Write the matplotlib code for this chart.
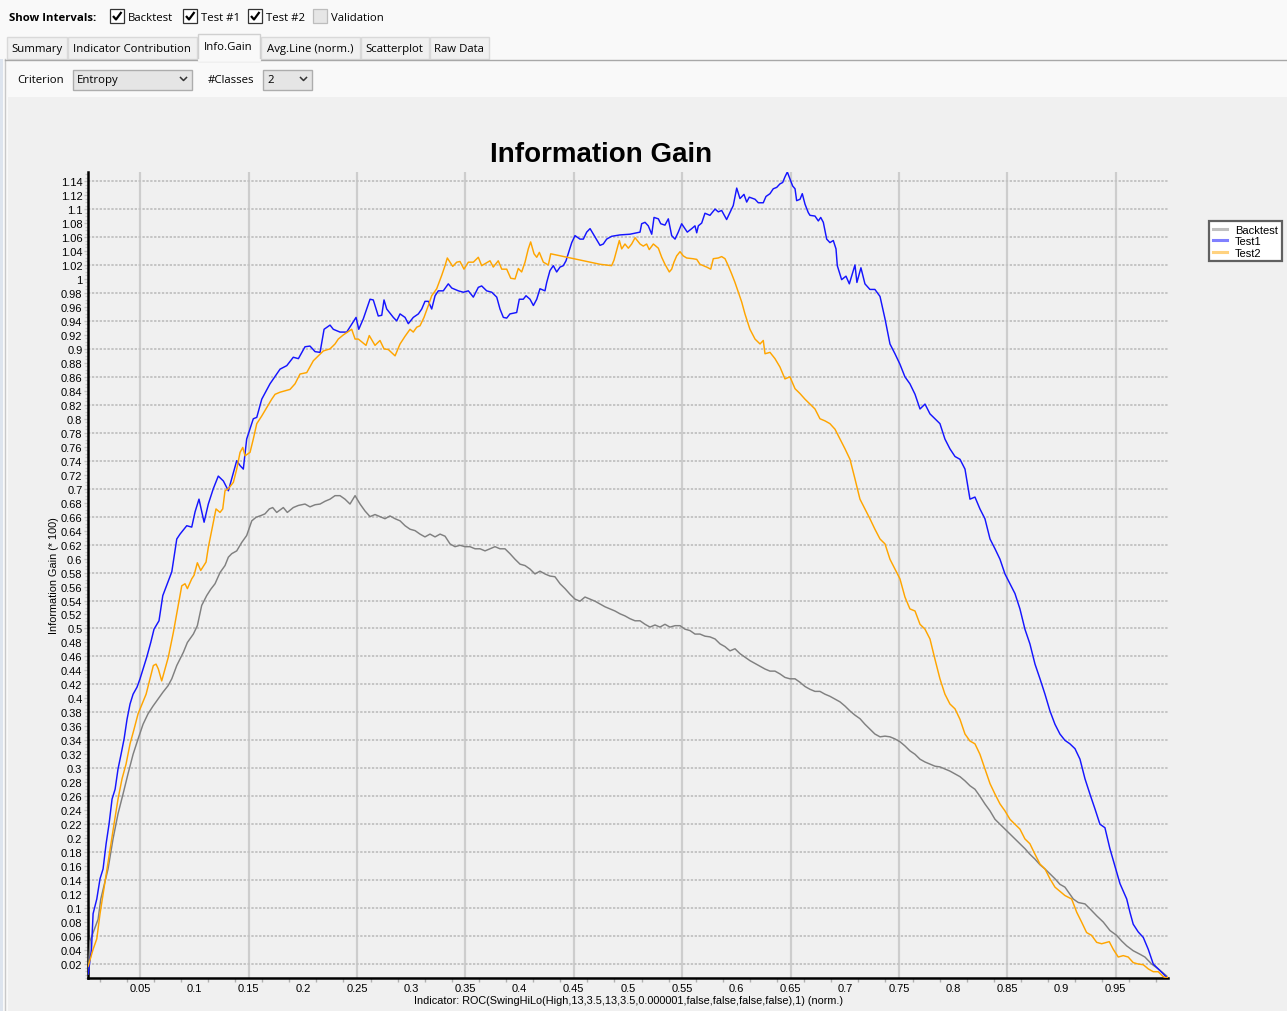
import numpy as np
import matplotlib.pyplot as plt
from matplotlib.patches import Rectangle
from matplotlib.lines import Line2D
from matplotlib.ticker import FixedLocator, FuncFormatter

# ----------------------------------------------------------------------
# data (indicator value, information gain * 100)
# ----------------------------------------------------------------------
backtest_x = [0.002, 0.0037, 0.0111, 0.0136, 0.0203, 0.0249, 0.0295, 0.0341, 0.0387, 0.0434,
              0.048, 0.0526, 0.0572, 0.0618, 0.0664, 0.071, 0.0756, 0.0791, 0.0837, 0.0898,
              0.0935, 0.099, 0.1027, 0.1067, 0.1113, 0.115, 0.119, 0.1236, 0.1282, 0.1313,
              0.1344, 0.139, 0.1436, 0.1482, 0.1529, 0.1568, 0.1621, 0.1651, 0.1691, 0.1722,
              0.1759, 0.182, 0.1857, 0.1912, 0.1959, 0.202, 0.2066, 0.2113, 0.2159, 0.2205,
              0.2251, 0.2297, 0.2343, 0.2389, 0.2435, 0.2482, 0.2528, 0.2574, 0.262, 0.2666,
              0.2712, 0.2758, 0.2804, 0.2851, 0.2897, 0.2943, 0.2989, 0.3035, 0.3081, 0.3127,
              0.3173, 0.322, 0.3266, 0.3312, 0.3358, 0.3404, 0.345, 0.3496, 0.3542, 0.3589,
              0.3635, 0.3681, 0.3727, 0.3773, 0.3819, 0.3865, 0.3911, 0.3958, 0.4004, 0.405,
              0.4096, 0.4142, 0.4188, 0.4234, 0.428, 0.4326, 0.4373, 0.4419, 0.4465, 0.4511,
              0.4557, 0.4603, 0.465, 0.4696, 0.4742, 0.4788, 0.4834, 0.488, 0.4926, 0.4972,
              0.5018, 0.5065, 0.5111, 0.5157, 0.5203, 0.5249, 0.5295, 0.5341, 0.5387, 0.5434,
              0.548, 0.5526, 0.5572, 0.5618, 0.5664, 0.571, 0.5756, 0.5803, 0.5849, 0.5895,
              0.5941, 0.5987, 0.6033, 0.6079, 0.6125, 0.6172, 0.6218, 0.6264, 0.631, 0.6356,
              0.6402, 0.6448, 0.6494, 0.6541, 0.6587, 0.6633, 0.6679, 0.6725, 0.6771, 0.6817,
              0.6863, 0.691, 0.6956, 0.7002, 0.7048, 0.7094, 0.714, 0.7186, 0.7232, 0.7278,
              0.7325, 0.7371, 0.7417, 0.7463, 0.7509, 0.7555, 0.7601, 0.7648, 0.7694, 0.774,
              0.7786, 0.7832, 0.7878, 0.7924, 0.797, 0.8017, 0.8063, 0.8109, 0.8155, 0.8201,
              0.8247, 0.8293, 0.834, 0.8386, 0.8432, 0.8478, 0.8524, 0.857, 0.8616, 0.8662,
              0.8708, 0.8755, 0.8801, 0.8847, 0.8893, 0.8939, 0.8985, 0.9031, 0.9077, 0.9108,
              0.9154, 0.9216, 0.9262, 0.9324, 0.9385, 0.9446, 0.9508, 0.9554, 0.9601, 0.9661,
              0.9723, 0.9769, 0.9831, 0.9892, 0.9938, 0.9969]
backtest_y = [0.006, 0.053, 0.084, 0.113, 0.156, 0.199, 0.235, 0.263, 0.292, 0.320,
              0.342, 0.363, 0.378, 0.389, 0.399, 0.409, 0.418, 0.428, 0.447, 0.466,
              0.480, 0.492, 0.504, 0.533, 0.547, 0.556, 0.564, 0.580, 0.590, 0.602,
              0.607, 0.611, 0.623, 0.633, 0.654, 0.659, 0.662, 0.664, 0.671, 0.673,
              0.666, 0.673, 0.666, 0.673, 0.676, 0.678, 0.674, 0.677, 0.678, 0.682,
              0.685, 0.690, 0.690, 0.685, 0.678, 0.690, 0.678, 0.668, 0.660, 0.663,
              0.660, 0.657, 0.661, 0.657, 0.654, 0.647, 0.642, 0.640, 0.635, 0.631,
              0.635, 0.631, 0.635, 0.632, 0.621, 0.617, 0.619, 0.617, 0.617, 0.614,
              0.614, 0.611, 0.614, 0.617, 0.614, 0.614, 0.607, 0.599, 0.592, 0.590,
              0.585, 0.578, 0.582, 0.578, 0.575, 0.574, 0.564, 0.557, 0.549, 0.542,
              0.539, 0.545, 0.542, 0.539, 0.535, 0.531, 0.528, 0.525, 0.521, 0.518,
              0.514, 0.511, 0.511, 0.506, 0.502, 0.505, 0.502, 0.506, 0.502, 0.504,
              0.504, 0.499, 0.497, 0.492, 0.492, 0.489, 0.488, 0.485, 0.478, 0.474,
              0.468, 0.471, 0.464, 0.459, 0.454, 0.450, 0.446, 0.442, 0.439, 0.439,
              0.435, 0.430, 0.428, 0.428, 0.423, 0.417, 0.413, 0.410, 0.410, 0.406,
              0.403, 0.399, 0.395, 0.389, 0.382, 0.376, 0.371, 0.363, 0.356, 0.349,
              0.345, 0.346, 0.345, 0.342, 0.338, 0.332, 0.325, 0.320, 0.313, 0.309,
              0.306, 0.303, 0.302, 0.299, 0.296, 0.292, 0.288, 0.282, 0.275, 0.270,
              0.260, 0.249, 0.239, 0.227, 0.220, 0.213, 0.206, 0.199, 0.192, 0.185,
              0.177, 0.170, 0.162, 0.156, 0.149, 0.142, 0.134, 0.130, 0.120, 0.113,
              0.108, 0.106, 0.099, 0.089, 0.080, 0.068, 0.061, 0.053, 0.046, 0.039,
              0.034, 0.030, 0.020, 0.013, 0.007, 0.003]

test1_x = [0.002, 0.005, 0.0065, 0.0099, 0.0129, 0.0157, 0.0185, 0.0212, 0.024, 0.0268,
           0.0295, 0.0323, 0.0351, 0.0378, 0.0406, 0.0434, 0.047, 0.0498, 0.056, 0.0597,
           0.0627, 0.0673, 0.0708, 0.075, 0.0791, 0.0837, 0.0867, 0.0929, 0.0975, 0.1006,
           0.1042, 0.1089, 0.1128, 0.1174, 0.122, 0.1267, 0.1313, 0.139, 0.1421, 0.1451,
           0.1482, 0.1543, 0.1575, 0.1621, 0.1697, 0.179, 0.1852, 0.1912, 0.1959, 0.202,
           0.2066, 0.2113, 0.2159, 0.2196, 0.2251, 0.2281, 0.2343, 0.2405, 0.2442, 0.2491,
           0.2516, 0.2558, 0.262, 0.265, 0.2696, 0.2728, 0.2749, 0.2774, 0.2835, 0.2866,
           0.2897, 0.2943, 0.2973, 0.3019, 0.3066, 0.3097, 0.3127, 0.3158, 0.3189, 0.322,
           0.325, 0.3296, 0.3342, 0.3374, 0.3435, 0.3481, 0.3527, 0.3573, 0.3619, 0.365,
           0.3696, 0.3743, 0.3789, 0.3819, 0.385, 0.3881, 0.3911, 0.3973, 0.3997, 0.4034,
           0.4059, 0.4096, 0.4127, 0.4158, 0.4188, 0.4234, 0.425, 0.428, 0.4311, 0.4342,
           0.4373, 0.4403, 0.4428, 0.4481, 0.4511, 0.4557, 0.4588, 0.4619, 0.465, 0.4742,
           0.4772, 0.4803, 0.4849, 0.4926, 0.5018, 0.5111, 0.5126, 0.5157, 0.5187, 0.5219,
           0.524, 0.528, 0.5302, 0.5341, 0.5372, 0.5403, 0.5434, 0.5464, 0.5495, 0.5526,
           0.5547, 0.5588, 0.5618, 0.5634, 0.5649, 0.568, 0.571, 0.5756, 0.5803, 0.5833,
           0.5864, 0.591, 0.5941, 0.5971, 0.6003, 0.6033, 0.607, 0.6095, 0.6119, 0.6172,
           0.6202, 0.6248, 0.6273, 0.631, 0.634, 0.6372, 0.6402, 0.6427, 0.6448, 0.647,
           0.6494, 0.6519, 0.6541, 0.6556, 0.6587, 0.6608, 0.6633, 0.6663, 0.6679, 0.6725,
           0.6756, 0.6778, 0.6802, 0.6833, 0.6863, 0.6894, 0.6919, 0.6931, 0.6971, 0.7011,
           0.7042, 0.7094, 0.7112, 0.7149, 0.7186, 0.7232, 0.7278, 0.7325, 0.7371, 0.7417,
           0.7463, 0.7509, 0.7555, 0.7601, 0.7648, 0.7694, 0.774, 0.7786, 0.7832, 0.7878,
           0.7924, 0.797, 0.8017, 0.8063, 0.8109, 0.8155, 0.8201, 0.8247, 0.8293, 0.834,
           0.8386, 0.8432, 0.8478, 0.8524, 0.857, 0.8616, 0.8662, 0.8708, 0.8755, 0.8801,
           0.8847, 0.8893, 0.8939, 0.8985, 0.9031, 0.9077, 0.9124, 0.917, 0.9216, 0.9262,
           0.9308, 0.9354, 0.94, 0.9446, 0.9493, 0.9539, 0.9601, 0.9631, 0.9661, 0.9707,
           0.9754, 0.98, 0.9846, 0.9892, 0.9938, 0.9969]
test1_y = [0.006, 0.041, 0.092, 0.113, 0.142, 0.156, 0.192, 0.220, 0.256, 0.270,
           0.299, 0.320, 0.342, 0.370, 0.392, 0.406, 0.416, 0.428, 0.459, 0.480,
           0.499, 0.511, 0.547, 0.564, 0.581, 0.628, 0.635, 0.647, 0.645, 0.667,
           0.685, 0.652, 0.678, 0.700, 0.718, 0.711, 0.697, 0.740, 0.733, 0.728,
           0.771, 0.800, 0.802, 0.828, 0.850, 0.871, 0.876, 0.888, 0.886, 0.903,
           0.904, 0.896, 0.895, 0.928, 0.934, 0.928, 0.924, 0.924, 0.933, 0.945,
           0.928, 0.943, 0.971, 0.970, 0.947, 0.948, 0.970, 0.957, 0.945, 0.940,
           0.950, 0.945, 0.936, 0.945, 0.950, 0.957, 0.968, 0.968, 0.957, 0.976,
           0.983, 0.983, 0.993, 0.987, 0.983, 0.981, 0.983, 0.974, 0.988, 0.990,
           0.983, 0.981, 0.974, 0.957, 0.945, 0.944, 0.950, 0.952, 0.971, 0.971,
           0.976, 0.971, 0.962, 0.971, 0.986, 0.983, 0.995, 1.012, 1.019, 1.010,
           1.017, 1.019, 1.026, 1.052, 1.062, 1.057, 1.057, 1.067, 1.072, 1.048,
           1.050, 1.057, 1.061, 1.063, 1.064, 1.067, 1.079, 1.081, 1.076, 1.064,
           1.088, 1.086, 1.079, 1.077, 1.086, 1.062, 1.057, 1.067, 1.079, 1.072,
           1.067, 1.072, 1.076, 1.066, 1.076, 1.080, 1.094, 1.091, 1.100, 1.096,
           1.098, 1.085, 1.095, 1.105, 1.130, 1.115, 1.121, 1.110, 1.117, 1.114,
           1.109, 1.109, 1.118, 1.122, 1.129, 1.131, 1.136, 1.138, 1.146, 1.153,
           1.143, 1.133, 1.129, 1.112, 1.114, 1.122, 1.107, 1.095, 1.091, 1.090,
           1.083, 1.088, 1.081, 1.057, 1.052, 1.055, 1.043, 1.019, 0.999, 1.004,
           0.993, 1.020, 0.995, 1.016, 0.993, 0.985, 0.985, 0.975, 0.943, 0.907,
           0.893, 0.878, 0.860, 0.850, 0.835, 0.814, 0.821, 0.807, 0.800, 0.793,
           0.771, 0.757, 0.746, 0.742, 0.728, 0.685, 0.688, 0.671, 0.657, 0.628,
           0.614, 0.599, 0.578, 0.564, 0.550, 0.528, 0.499, 0.478, 0.449, 0.428,
           0.406, 0.382, 0.363, 0.349, 0.340, 0.335, 0.328, 0.313, 0.285, 0.263,
           0.242, 0.220, 0.215, 0.185, 0.160, 0.135, 0.113, 0.094, 0.077, 0.066,
           0.058, 0.041, 0.020, 0.013, 0.006, 0.001]

test2_x = [0.002, 0.0065, 0.0099, 0.0129, 0.0157, 0.0185, 0.0221, 0.0258, 0.0295, 0.0332,
           0.0369, 0.0406, 0.0443, 0.048, 0.0517, 0.0554, 0.059, 0.0621, 0.0646, 0.0667,
           0.0698, 0.0729, 0.0759, 0.0805, 0.0851, 0.0883, 0.0913, 0.0935, 0.0975, 0.0996,
           0.1027, 0.1058, 0.1107, 0.1128, 0.1174, 0.1199, 0.1236, 0.1261, 0.1282, 0.1313,
           0.1359, 0.139, 0.1421, 0.1446, 0.1467, 0.1513, 0.1543, 0.1575, 0.1621, 0.1667,
           0.1713, 0.1744, 0.179, 0.1836, 0.1882, 0.1928, 0.1974, 0.2036, 0.2097, 0.2189,
           0.2251, 0.2297, 0.2327, 0.2374, 0.2451, 0.2482, 0.2512, 0.2583, 0.2613, 0.2666,
           0.2712, 0.2749, 0.2789, 0.2851, 0.2897, 0.2943, 0.2989, 0.3019, 0.3051, 0.3081,
           0.3118, 0.3158, 0.3189, 0.3235, 0.3281, 0.3312, 0.3333, 0.3358, 0.3383, 0.342,
           0.345, 0.3487, 0.3527, 0.3573, 0.3619, 0.365, 0.3727, 0.3757, 0.3803, 0.3835,
           0.3881, 0.3918, 0.3958, 0.3988, 0.4019, 0.405, 0.408, 0.4102, 0.4133, 0.4158,
           0.4182, 0.4219, 0.4265, 0.4287, 0.4742, 0.4849, 0.4871, 0.492, 0.4942, 0.4972,
           0.5003, 0.5034, 0.5065, 0.5111, 0.5141, 0.5172, 0.5196, 0.5234, 0.528, 0.5311,
           0.5341, 0.5381, 0.5403, 0.5424, 0.5449, 0.548, 0.551, 0.5541, 0.5597, 0.5634,
           0.5664, 0.5726, 0.5763, 0.5787, 0.5833, 0.5864, 0.5895, 0.5925, 0.5957, 0.5987,
           0.6018, 0.6049, 0.6079, 0.6125, 0.6172, 0.6218, 0.6248, 0.6264, 0.631, 0.6356,
           0.6402, 0.6448, 0.6494, 0.6541, 0.6587, 0.6633, 0.6679, 0.6725, 0.6771, 0.6817,
           0.6863, 0.691, 0.6956, 0.7002, 0.7048, 0.7094, 0.714, 0.7186, 0.7232, 0.7278,
           0.7325, 0.7371, 0.7417, 0.7463, 0.7509, 0.7555, 0.7601, 0.7648, 0.7694, 0.774,
           0.7786, 0.7832, 0.7878, 0.7924, 0.797, 0.8017, 0.8063, 0.8109, 0.8155, 0.8201,
           0.8247, 0.8293, 0.834, 0.8386, 0.8432, 0.8478, 0.8524, 0.857, 0.8616, 0.8662,
           0.8708, 0.8755, 0.8801, 0.8847, 0.8893, 0.8939, 0.8985, 0.9031, 0.9093, 0.914,
           0.9185, 0.9231, 0.9277, 0.9324, 0.937, 0.944, 0.9477, 0.9523, 0.9569, 0.9615,
           0.9661, 0.9707, 0.9754, 0.98, 0.9846, 0.9892, 0.9938, 0.9969, 0.9991]
test2_y = [0.017, 0.041, 0.056, 0.092, 0.120, 0.149, 0.185, 0.220, 0.256, 0.285,
           0.306, 0.335, 0.356, 0.378, 0.392, 0.406, 0.428, 0.447, 0.449, 0.442,
           0.425, 0.442, 0.459, 0.494, 0.533, 0.561, 0.564, 0.557, 0.571, 0.576,
           0.594, 0.583, 0.595, 0.616, 0.652, 0.671, 0.666, 0.671, 0.697, 0.700,
           0.709, 0.728, 0.752, 0.759, 0.747, 0.752, 0.771, 0.793, 0.804, 0.816,
           0.828, 0.835, 0.838, 0.840, 0.842, 0.850, 0.864, 0.866, 0.883, 0.897,
           0.900, 0.907, 0.914, 0.920, 0.928, 0.914, 0.914, 0.905, 0.919, 0.905,
           0.912, 0.900, 0.899, 0.890, 0.907, 0.918, 0.928, 0.924, 0.931, 0.933,
           0.945, 0.962, 0.976, 0.986, 1.005, 1.019, 1.030, 1.024, 1.018, 1.024,
           1.025, 1.014, 1.024, 1.024, 1.031, 1.019, 1.026, 1.017, 1.026, 1.014,
           1.014, 1.001, 1.000, 1.015, 1.010, 1.024, 1.043, 1.053, 1.036, 1.031,
           1.038, 1.024, 1.020, 1.036, 1.021, 1.019, 1.027, 1.055, 1.043, 1.050,
           1.044, 1.050, 1.059, 1.050, 1.047, 1.050, 1.042, 1.050, 1.044, 1.031,
           1.021, 1.010, 1.014, 1.024, 1.033, 1.039, 1.033, 1.030, 1.029, 1.028,
           1.021, 1.017, 1.014, 1.029, 1.030, 1.032, 1.029, 1.019, 1.007, 0.995,
           0.981, 0.967, 0.950, 0.928, 0.914, 0.907, 0.912, 0.893, 0.895, 0.886,
           0.874, 0.857, 0.860, 0.843, 0.836, 0.828, 0.821, 0.814, 0.800, 0.797,
           0.793, 0.785, 0.771, 0.757, 0.742, 0.714, 0.685, 0.671, 0.657, 0.642,
           0.628, 0.621, 0.599, 0.585, 0.571, 0.545, 0.528, 0.525, 0.506, 0.499,
           0.485, 0.456, 0.428, 0.406, 0.392, 0.385, 0.370, 0.349, 0.339, 0.335,
           0.320, 0.299, 0.278, 0.263, 0.249, 0.239, 0.227, 0.220, 0.213, 0.199,
           0.192, 0.177, 0.163, 0.156, 0.142, 0.130, 0.124, 0.118, 0.113, 0.094,
           0.080, 0.065, 0.061, 0.051, 0.049, 0.052, 0.041, 0.030, 0.032, 0.030,
           0.022, 0.020, 0.019, 0.013, 0.009, 0.009, 0.002, 0.000, 0.003]

series_names = ["Backtest", "Test1", "Test2"]
series_colors = ["#808080", "#1515ff", "#ffa500"]
legend_colors = ["#c0c0c0", "#8080ff", "#ffd27f"]

x_ticks = [0.05, 0.1, 0.15, 0.2, 0.25, 0.3, 0.35, 0.4, 0.45, 0.5,
           0.55, 0.6, 0.65, 0.7, 0.75, 0.8, 0.85, 0.9, 0.95]
y_ticks = [round(0.02 * k, 2) for k in range(1, 58)]
x_grid = [0.05, 0.15, 0.25, 0.35, 0.45, 0.55, 0.65, 0.75, 0.85, 0.95]
y_grid = [round(0.02 + 0.04 * k, 2) for k in range(29)]

interval_names = ["Backtest", "Test #1", "Test #2", "Validation"]
interval_checked = [True, True, True, False]
tab_names = ["Summary", "Indicator Contribution", "Info.Gain", "Avg.Line (norm.)",
             "Scatterplot", "Raw Data"]

# ----------------------------------------------------------------------
# figure + window chrome (pixel coordinates)
# ----------------------------------------------------------------------
W, H = 1287, 1012
fig = plt.figure(figsize=(W / 100, H / 100), dpi=100, facecolor="#f9f9f9")
ui_font = "Open Sans"
ui_size = 8.2

ui = fig.add_axes([0, 0, 1, 1], zorder=0)
ui.set_xlim(0, W)
ui.set_ylim(H, 0)
ui.axis("off")

# chart panel
ui.add_patch(Rectangle((8, 98), W - 8, H - 98, fc="#f0f0f0", ec="none"))
ui.add_patch(Rectangle((0, 60), 3, H - 60, fc="#dde4ee", ec="none"))
ui.plot([5, 5], [60, H], color="#c8c8c8", lw=1)
ui.plot([5, W], [60.5, 60.5], color="#a8a8a8", lw=1)

# show intervals row
ui.text(9, 18, "Show Intervals:", fontsize=ui_size, fontweight="bold", family=ui_font,
        va="center", ha="left", color="#000000")
box_x = [110, 183, 248, 313]
for bx, name, chk in zip(box_x, interval_names, interval_checked):
    ui.add_patch(Rectangle((bx, 10), 14, 14, fc="#ffffff" if chk else "#e6e6e6",
                           ec="#333333" if chk else "#bdbdbd", lw=0.9))
    if chk:
        ui.plot([bx + 3, bx + 6, bx + 11.5], [17, 20.5, 13], color="#000000", lw=1.6,
                solid_capstyle="butt")
    ui.text(bx + 18, 18, name, fontsize=ui_size, family=ui_font, va="center", ha="left")

# tabs
tab_edges = [6, 67, 197, 260, 360, 429, 489]
for i, name in enumerate(tab_names):
    x0, x1 = tab_edges[i], tab_edges[i + 1]
    if name == "Info.Gain":
        ui.add_patch(Rectangle((x0 + 1, 35), x1 - x0 - 1, 26.5, fc="#f9f9f9",
                               ec="#d0d0d0", lw=1, zorder=3))
        ui.plot([x0 + 1.6, x1 - 0.6], [61, 61], color="#f9f9f9", lw=2, zorder=4)
        ui.text((x0 + x1) / 2, 47.5, name, fontsize=ui_size, family=ui_font,
                ha="center", va="center", zorder=5)
    else:
        ui.add_patch(Rectangle((x0 + 1, 38), x1 - x0 - 1, 22, fc="#f0f0f0",
                               ec="#d9d9d9", lw=1))
        ui.text((x0 + x1) / 2, 49, name, fontsize=ui_size, family=ui_font,
                ha="center", va="center")

# criterion row
ui.text(17, 80.5, "Criterion", fontsize=ui_size, family=ui_font, va="center")
ui.add_patch(Rectangle((73, 70.5), 119, 20, fc="#e5e5e5", ec="#adadad", lw=1))
ui.text(77, 80, "Entropy", fontsize=ui_size, family=ui_font, va="center")
ui.plot([180.5, 183.5, 186.5], [78.5, 81.5, 78.5], color="#333333", lw=1.1)
ui.text(208, 80.5, "#Classes", fontsize=ui_size, family=ui_font, va="center")
ui.add_patch(Rectangle((263, 70.5), 49, 20, fc="#e5e5e5", ec="#adadad", lw=1))
ui.text(267, 80, "2", fontsize=ui_size, family=ui_font, va="center")
ui.plot([300.5, 303.5, 306.5], [78.5, 81.5, 78.5], color="#333333", lw=1.1)

# ----------------------------------------------------------------------
# the chart itself
# ----------------------------------------------------------------------
chart_font = "Liberation Sans"
ax = fig.add_axes([88 / W, 1 - 979 / H, 1080 / W, 806 / H], zorder=2)
ax.set_facecolor("#f0f0f0")
ax.set_xlim(0.0018, 0.9982)
ax.set_ylim(0, 1.153)

ax.vlines(x_grid, 0, 1.153, color="#cdcdcd", lw=1.6, zorder=1)
ax.hlines(y_grid, 0.0018, 0.9982, color="#c4c4c4", lw=1.4, linestyles=(0, (1.2, 0.8)),
          zorder=1)

for xs, ys, name, col in zip([backtest_x, test1_x, test2_x], [backtest_y, test1_y, test2_y],
                             series_names, series_colors):
    ax.plot(xs, ys, color=col, lw=1.05, label=name, zorder=3)

for s in ["top", "right"]:
    ax.spines[s].set_visible(False)
for s in ["left", "bottom"]:
    ax.spines[s].set_linewidth(1.8)
    ax.spines[s].set_color("#000000")

ax.xaxis.set_major_locator(FixedLocator(x_ticks))
ax.yaxis.set_major_locator(FixedLocator(y_ticks))
ax.xaxis.set_minor_locator(FixedLocator([0.0125 + 0.025 * k for k in range(40)]))
ax.yaxis.set_minor_locator(FixedLocator([0.005 * k for k in range(231)]))
fmt = FuncFormatter(lambda v, p: "%g" % round(v, 2))
ax.xaxis.set_major_formatter(fmt)
ax.yaxis.set_major_formatter(fmt)
ax.tick_params(axis="x", which="major", length=0, pad=3.5, labelsize=8)
ax.tick_params(axis="y", which="major", length=3, width=1, color="#c0c0c0", pad=1,
               labelsize=8)
ax.tick_params(axis="x", which="minor", length=3, width=1, color="#b0b0b0")
ax.tick_params(axis="y", which="minor", length=2, width=1, color="#c8c8c8")
for lab in ax.get_xticklabels() + ax.get_yticklabels():
    lab.set_family(chart_font)

fig.text(601 / W, 1 - 155 / H, "Information Gain", fontsize=20, fontweight="bold",
         family=chart_font, ha="center", va="center")
fig.text(54 / W, 1 - 576 / H, "Information Gain (* 100)", fontsize=7.8, family=chart_font,
         rotation=90, ha="center", va="center")
fig.text(628 / W, 1 - 1001 / H,
         "Indicator: ROC(SwingHiLo(High,13,3.5,13,3.5,0.000001,false,false,false,false),1) (norm.)",
         fontsize=7.8, family=chart_font, ha="center", va="center")

handles = [Line2D([], [], color=c, lw=2.2) for c in legend_colors]
leg = fig.legend(handles, series_names, loc="upper left",
                 bbox_to_anchor=(1209 / W, 1 - 222 / H), bbox_transform=fig.transFigure,
                 borderaxespad=0, frameon=True, fancybox=False, handlelength=1.3,
                 handletextpad=0.7, borderpad=0.35, labelspacing=0.12,
                 prop={"family": chart_font, "size": 8})
leg.get_frame().set_edgecolor("#606060")
leg.get_frame().set_linewidth(1.6)
leg.get_frame().set_facecolor("#ffffff")
leg.get_frame().set_alpha(1)

fig.savefig("out.png", dpi=100, facecolor=fig.get_facecolor())
